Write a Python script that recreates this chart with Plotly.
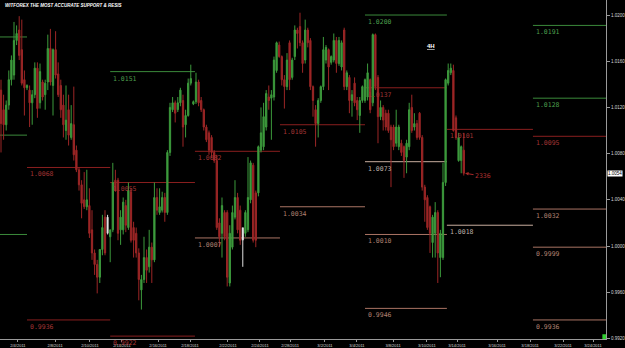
import plotly.graph_objects as go

# ---------------- data (4H candles, prices) ----------------
opens = [
    1.0135, 1.0118, 1.0105, 1.0122, 1.0144, 1.0148, 1.0178, 1.0187, 1.0170, 1.0144,
    1.0137, 1.0135, 1.0124, 1.0131, 1.0154, 1.0124, 1.0142, 1.0131, 1.0142, 1.0171,
    1.0139, 1.0170, 1.0149, 1.0139, 1.0122, 1.0100, 1.0118, 1.0094, 1.0105, 1.0083,
    1.0066, 1.0053, 1.0040, 1.0034, 1.0035, 1.0014, 0.9994, 0.9984, 0.9973, 0.9997,
    1.0025, 1.0025, 1.0008, 1.0014, 1.0057,
    1.0057, 1.0014, 1.0014, 1.0035, 1.0016, 1.0047, 1.0016, 1.0011, 0.9994, 0.9962,
    0.9971, 0.9990, 0.9982, 0.9999, 0.9988, 1.0042, 1.0029, 1.0031, 1.0042, 1.0029,
    1.0081, 1.0118, 1.0124, 1.0118, 1.0124, 1.0126, 1.0105, 1.0113, 1.0141, 1.0123,
    1.0125, 1.0142, 1.0126, 1.0118, 1.0103, 1.0098, 1.0094, 1.0081, 1.0074, 1.0020,
    1.0011, 1.0029, 1.0029, 0.9968, 0.9999, 1.0025, 1.0042, 1.0031, 1.0016, 1.0011,
    1.0014, 1.0040, 1.0070, 1.0046, 1.0046, 1.0083, 1.0086, 1.0103, 1.0129, 1.0128,
    1.0129, 1.0152, 1.0174, 1.0164, 1.0144, 1.0138, 1.0176, 1.0146, 1.0164, 1.0187,
    1.0190, 1.0176, 1.0161, 1.0187, 1.0178, 1.0138, 1.0118, 1.0106, 1.0126, 1.0138,
    1.0161, 1.0170, 1.0159, 1.0161,
    1.0178, 1.0158, 1.0155, 1.0187, 1.0138, 1.0146, 1.0126, 1.0141, 1.0126, 1.0113,
    1.0126, 1.0126, 1.0129, 1.0144, 1.0124, 1.0183, 1.0146, 1.0112, 1.0120, 1.0115,
    1.0115, 1.0103, 1.0103, 1.0089, 1.0086, 1.0089, 1.0086, 1.0077, 1.0086, 1.0120,
    1.0103, 1.0106, 1.0115, 1.0094, 1.0051, 1.0042, 1.0034, 1.0003, 1.0011, 1.0029,
    0.9990, 0.9990, 1.0055, 1.0141, 1.0150, 1.0152, 1.0111, 1.0074, 1.0074, 1.0083,
]
highs = [
    1.0144, 1.0131, 1.0126, 1.0152, 1.0165, 1.0194, 1.0191, 1.0199, 1.0196, 1.0152,
    1.0140, 1.0139, 1.0135, 1.0159, 1.0159, 1.0158, 1.0144, 1.0144, 1.0183, 1.0188,
    1.0171, 1.0186, 1.0159, 1.0144, 1.0131, 1.0139, 1.0131, 1.0122, 1.0138, 1.0087,
    1.0068, 1.0057, 1.0064, 1.0066, 1.0050, 1.0031, 0.9997, 0.9988, 0.9992, 1.0027,
    1.0031, 1.0027, 1.0014, 1.0072, 1.0066,
    1.0059, 1.0031, 1.0042, 1.0040, 1.0055, 1.0050, 1.0021, 1.0016, 0.9998, 0.9975,
    1.0008, 0.9997, 1.0014, 1.0003, 1.0055, 1.0050, 1.0050, 1.0047, 1.0046, 1.0083,
    1.0124, 1.0129, 1.0126, 1.0129, 1.0137, 1.0131, 1.0118, 1.0145, 1.0157, 1.0126,
    1.0150, 1.0144, 1.0129, 1.0119, 1.0105, 1.0100, 1.0096, 1.0083, 1.0079, 1.0024,
    1.0042, 1.0031, 1.0031, 1.0018, 1.0035, 1.0057, 1.0046, 1.0035, 1.0016, 1.0031,
    1.0077, 1.0074, 1.0072, 1.0048, 1.0087, 1.0120, 1.0124, 1.0135, 1.0139, 1.0135,
    1.0164, 1.0177, 1.0177, 1.0165, 1.0148, 1.0167, 1.0178, 1.0163, 1.0191, 1.0189,
    1.0202, 1.0178, 1.0196, 1.0189, 1.0180, 1.0139, 1.0122, 1.0128, 1.0139, 1.0181,
    1.0174, 1.0171, 1.0165, 1.0184,
    1.0181, 1.0181, 1.0178, 1.0189, 1.0152, 1.0148, 1.0135, 1.0146, 1.0129, 1.0129,
    1.0139, 1.0145, 1.0158, 1.0145, 1.0184, 1.0184, 1.0148, 1.0126, 1.0122, 1.0118,
    1.0118, 1.0105, 1.0105, 1.0118, 1.0105, 1.0092, 1.0087, 1.0092, 1.0124, 1.0131,
    1.0115, 1.0109, 1.0116, 1.0096, 1.0053, 1.0044, 1.0035, 1.0027, 1.0038, 1.0031,
    1.0014, 1.0072, 1.0145, 1.0158, 1.0158, 1.0157, 1.0113, 1.0098, 1.0087, 1.0098,
]
lows = [
    1.0081, 1.0092, 1.0100, 1.0118, 1.0139, 1.0144, 1.0174, 1.0161, 1.0139, 1.0113,
    1.0135, 1.0103, 1.0105, 1.0128, 1.0111, 1.0119, 1.0126, 1.0118, 1.0135, 1.0139,
    1.0113, 1.0145, 1.0129, 1.0111, 1.0094, 1.0092, 1.0087, 1.0092, 1.0074, 1.0064,
    1.0048, 1.0024, 1.0032, 1.0031, 1.0007, 0.9988, 0.9975, 0.9959, 0.9968, 0.9992,
    0.9992, 1.0010, 0.9986, 1.0012, 1.0047,
    1.0005, 1.0001, 1.0010, 1.0012, 1.0014, 1.0003, 0.9990, 0.9990, 0.9953, 0.9945,
    0.9968, 0.9968, 0.9977, 0.9968, 0.9986, 1.0027, 1.0027, 1.0029, 1.0021, 1.0027,
    1.0078, 1.0116, 1.0107, 1.0116, 1.0121, 1.0086, 1.0094, 1.0112, 1.0139, 1.0122,
    1.0123, 1.0121, 1.0116, 1.0100, 1.0090, 1.0079, 1.0076, 1.0072, 1.0014, 0.9999,
    0.9990, 1.0005, 0.9965, 0.9965, 0.9997, 1.0023, 1.0011, 1.0001, 0.9982, 1.0008,
    1.0012, 1.0037, 1.0003, 0.9999, 1.0043, 1.0081, 1.0083, 1.0100, 1.0118, 1.0092,
    1.0126, 1.0150, 1.0163, 1.0139, 1.0119, 1.0135, 1.0135, 1.0144, 1.0161, 1.0171,
    1.0173, 1.0150, 1.0158, 1.0172, 1.0135, 1.0112, 1.0086, 1.0094, 1.0124, 1.0135,
    1.0158, 1.0135, 1.0157, 1.0159,
    1.0150, 1.0156, 1.0152, 1.0135, 1.0135, 1.0115, 1.0112, 1.0121, 1.0109, 1.0098,
    1.0124, 1.0124, 1.0126, 1.0115, 1.0121, 1.0135, 1.0089, 1.0109, 1.0100, 1.0100,
    1.0098, 1.0051, 1.0083, 1.0086, 1.0083, 1.0078, 1.0059, 1.0063, 1.0083, 1.0098,
    1.0100, 1.0092, 1.0092, 1.0048, 1.0021, 1.0014, 0.9994, 0.9990, 0.9990, 0.9968,
    0.9973, 0.9988, 1.0052, 1.0139, 1.0148, 1.0099, 1.0092, 1.0073, 1.0063, 1.0061,
]
closes = [
    1.0106, 1.0105, 1.0122, 1.0144, 1.0161, 1.0178, 1.0184, 1.0165, 1.0141, 1.0137,
    1.0139, 1.0124, 1.0131, 1.0154, 1.0119, 1.0151, 1.0129, 1.0141, 1.0171, 1.0142,
    1.0170, 1.0148, 1.0131, 1.0118, 1.0105, 1.0109, 1.0096, 1.0106, 1.0079, 1.0066,
    1.0053, 1.0037, 1.0034, 1.0040, 1.0011, 0.9994, 0.9984, 0.9973, 0.9997, 1.0016,
    0.9994, 1.0011, 1.0014, 1.0055, 1.0048,
    1.0011, 1.0025, 1.0038, 1.0018, 1.0048, 1.0005, 1.0005, 0.9994, 0.9971, 0.9971,
    0.9990, 0.9979, 0.9999, 0.9988, 1.0042, 1.0031, 1.0034, 1.0042, 1.0029, 1.0081,
    1.0120, 1.0124, 1.0115, 1.0124, 1.0135, 1.0103, 1.0113, 1.0141, 1.0145, 1.0125,
    1.0142, 1.0124, 1.0118, 1.0103, 1.0092, 1.0083, 1.0081, 1.0074, 1.0016, 1.0008,
    1.0035, 1.0008, 0.9973, 1.0011, 1.0029, 1.0042, 1.0014, 1.0005, 1.0005, 1.0029,
    1.0042, 1.0072, 1.0005, 1.0005, 1.0086, 1.0098, 1.0112, 1.0132, 1.0126, 1.0131,
    1.0161, 1.0176, 1.0164, 1.0144, 1.0138, 1.0161, 1.0144, 1.0161, 1.0187, 1.0184,
    1.0176, 1.0158, 1.0187, 1.0176, 1.0138, 1.0126, 1.0106, 1.0126, 1.0138, 1.0170,
    1.0172, 1.0155, 1.0164, 1.0178,
    1.0158, 1.0178, 1.0176, 1.0138, 1.0150, 1.0126, 1.0131, 1.0124, 1.0118, 1.0126,
    1.0138, 1.0144, 1.0150, 1.0118, 1.0183, 1.0138, 1.0112, 1.0120, 1.0109, 1.0103,
    1.0100, 1.0092, 1.0086, 1.0103, 1.0103, 1.0081, 1.0074, 1.0089, 1.0118, 1.0100,
    1.0106, 1.0094, 1.0094, 1.0051, 1.0040, 1.0016, 1.0011, 1.0025, 1.0029, 0.9994,
    1.0011, 1.0055, 1.0144, 1.0152, 1.0154, 1.0100, 1.0094, 1.0094, 1.0086, 1.0063,
]
white_bars = [41, 93]

# weekly support / resistance levels
week_edges = [-1, 10, 42, 74.6, 107.3, 140, 171.5, 204.6, 233]
level_week = [0, 0, 0, 1, 1, 2, 2, 2, 3, 3, 4, 4, 5, 5, 5, 5, 5, 6, 6, 7, 7, 7, 7, 7, 7]
level_value = [1.0181, 1.0096, 1.0010, 1.0068, 0.9936, 1.0151, 1.0055, 0.9922,
               1.0082, 1.0007, 1.0105, 1.0034, 1.0200, 1.0137, 1.0073, 1.0010,
               0.9946, 1.0101, 1.0018, 1.0191, 1.0128, 1.0095, 1.0032, 0.9999, 0.9936]
level_kind = ['G', 'G', 'G', 'R', 'R', 'G', 'R', 'R', 'R', 'S', 'R', 'S', 'G', 'R',
              'L', 'S', 'S', 'R', 'L', 'G', 'G', 'R', 'S', 'S', 'S']

date_pos = [6.5, 20.8, 34.2, 46.5, 60.4, 72.7, 87.3, 99.6, 111.2, 124.6, 136.9,
            150.8, 163.8, 175.4, 190.8, 203.5, 216.2, 227.7]
date_text = ["2/4/2011", "2/8/2011", "2/10/2011", "2/14/2011", "2/16/2011",
             "2/18/2011", "2/22/2011", "2/24/2011", "2/28/2011", "3/2/2011",
             "3/4/2011", "3/8/2011", "3/10/2011", "3/14/2011", "3/16/2011",
             "3/18/2011", "3/22/2011", "3/24/2011"]
price_ticks = [0.9920, 0.9960, 1.0000, 1.0040, 1.0080, 1.0120, 1.0160, 1.0200]
last_price_text = "1.0054"
timer_text = "2336"

n = len(opens)
assert len(highs) == n and len(lows) == n and len(closes) == n

# ---------------- styles ----------------
INC = '#3c9a3c'
DEC = '#9c2626'
kind_line = {'G': '#3b8a3b', 'R': '#8a1f1f', 'S': '#aa7464', 'L': '#c8ad9e'}
kind_text = {'G': '#4c9e4c', 'R': '#a23434', 'S': '#b08070', 'L': '#bfb0a8'}
AXC = '#9a9a9a'

fig = go.Figure()

idx = [i for i in range(n) if i not in white_bars]
fig.add_trace(go.Candlestick(
    x=idx,
    open=[opens[i] for i in idx], high=[highs[i] for i in idx],
    low=[lows[i] for i in idx], close=[closes[i] for i in idx],
    increasing=dict(line=dict(color=INC, width=1), fillcolor=INC),
    decreasing=dict(line=dict(color=DEC, width=1), fillcolor=DEC),
    whiskerwidth=0, hoverinfo='skip'))

wx, wy, bx, by = [], [], [], []
for i in white_bars:
    wx += [i, i, None]
    wy += [lows[i], highs[i], None]
    bx += [i, i, None]
    by += [opens[i], closes[i], None]
fig.add_trace(go.Scatter(x=wx, y=wy, mode='lines', line=dict(color='#e0e0e0', width=1), hoverinfo='skip'))
fig.add_trace(go.Scatter(x=bx, y=by, mode='lines', line=dict(color='#e0e0e0', width=2), hoverinfo='skip'))

shapes = []
annotations = []
for w, v, k in zip(level_week, level_value, level_kind):
    x0, x1 = week_edges[w], week_edges[w + 1]
    shapes.append(dict(type='line', xref='x', yref='y', x0=x0, x1=x1, y0=v, y1=v,
                       line=dict(color=kind_line[k], width=1), layer='below'))
    if x0 >= 0:
        annotations.append(dict(x=x0, y=v, xref='x', yref='y', text=f"{v:.4f}",
                                showarrow=False, xanchor='left', yanchor='top',
                                xshift=1, yshift=-1,
                                font=dict(family='DejaVu Sans Mono', size=6.5, color=kind_text[k])))

# title
annotations.append(dict(xref='paper', yref='paper', x=0, y=1, xanchor='left', yanchor='top',
                        xshift=3, yshift=-1, showarrow=False,
                        text="<b><i>WITFOREX THE MOST ACCURATE SUPPORT &amp; RESIS</i></b>",
                        font=dict(family='Liberation Sans', size=4.5, color='white')))
# timeframe tag
annotations.append(dict(xref='x', yref='y', x=165.5, y=1.0173, showarrow=False,
                        text="<b><u>4H</u></b>",
                        font=dict(family='Liberation Sans', size=6, color='white')))
# current price box
annotations.append(dict(xref='paper', yref='y', x=1, y=closes[-1], xanchor='left', xshift=1,
                        showarrow=False, text=last_price_text, bgcolor='white', borderpad=0,
                        font=dict(family='Liberation Sans', size=4.5, color='black')))
# candle timer arrow
annotations.append(dict(xref='x', yref='y', x=n - 0.5, y=closes[-1], ax=18, ay=3,
                        showarrow=True, arrowhead=2, arrowsize=0.7, arrowwidth=1,
                        arrowcolor='#a52828', text=timer_text,
                        font=dict(family='DejaVu Sans Mono', size=6.5, color='#b03030')))

shapes.append(dict(type='rect', xref='paper', yref='paper', x0=0.994, x1=1.0, y0=0, y1=0.014,
                   fillcolor='#30d030', line=dict(width=0)))

fig.update_layout(
    width=625, height=348,
    margin=dict(l=0, r=19, t=0, b=9),
    paper_bgcolor='black', plot_bgcolor='black',
    showlegend=False,
    shapes=shapes, annotations=annotations,
    xaxis=dict(range=[-0.385, 232.7], rangeslider=dict(visible=False),
               showgrid=False, zeroline=False, showline=True, linecolor=AXC, linewidth=1,
               tickmode='array', tickvals=date_pos, ticktext=date_text,
               ticks='outside', ticklen=2, tickcolor=AXC, automargin=False,
               tickfont=dict(family='Liberation Sans', size=4, color='#d8d8d8')),
    yaxis=dict(range=[0.99195, 1.02130], side='right',
               showgrid=False, zeroline=False, showline=True, linecolor=AXC, linewidth=1,
               tickmode='array', tickvals=price_ticks,
               ticktext=[f"{t:.4f}" for t in price_ticks],
               ticks='outside', ticklen=3, tickcolor=AXC, automargin=False,
               tickfont=dict(family='Liberation Sans', size=4.5, color='#d8d8d8')),
)

fig.write_html("out.html")
